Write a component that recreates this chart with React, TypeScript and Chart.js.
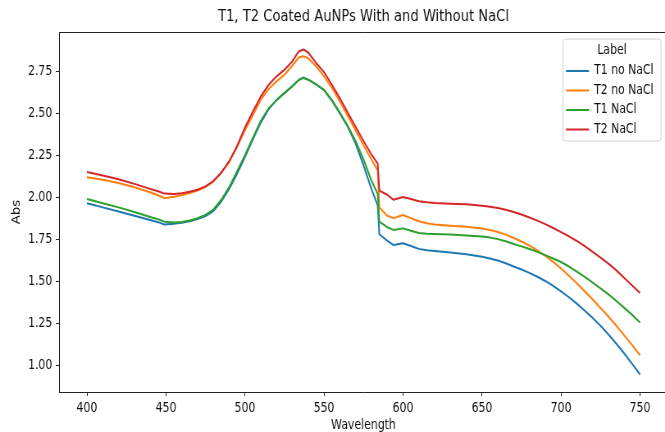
import React, { useEffect, useRef } from 'react';
import { Chart, registerables } from 'chart.js';

Chart.register(...registerables);

// ---- data ----
const wavelengths = [
  400, 410, 420, 430, 440, 445, 449,
  455, 460, 465, 470, 475, 480, 485, 490, 495, 500,
  505, 510, 515, 520, 525, 530, 534, 537, 540, 545,
  550, 555, 560, 565, 570, 575, 580,
  584, 585,
  590, 594, 600, 605, 610, 615, 620, 630, 640, 650,
  655, 660, 665, 670, 675, 680, 685, 690, 695, 700,
  705, 710, 715, 720, 725, 730, 735, 740, 745, 750,
];

const t1NoNaCl = [
  1.965, 1.94, 1.915, 1.89, 1.865, 1.852, 1.838,
  1.843, 1.848, 1.857, 1.87, 1.888, 1.918, 1.975, 2.05, 2.14, 2.24,
  2.345, 2.445, 2.525, 2.58, 2.622, 2.662, 2.698, 2.712, 2.7, 2.672,
  2.638, 2.575, 2.5, 2.42, 2.32, 2.19, 2.05,
  1.95, 1.78,
  1.742, 1.716, 1.726, 1.71, 1.693, 1.685, 1.68, 1.671, 1.661, 1.646,
  1.636, 1.624, 1.607, 1.588, 1.57, 1.55, 1.527, 1.502, 1.473, 1.44,
  1.405, 1.367, 1.325, 1.282, 1.235, 1.183, 1.128, 1.07, 1.008, 0.945,
];

const t2NoNaCl = [
  2.12, 2.105, 2.085, 2.06, 2.03, 2.012, 1.995,
  2.003, 2.012, 2.025, 2.04, 2.062, 2.095, 2.145, 2.21, 2.3, 2.4,
  2.49, 2.58, 2.645, 2.69, 2.73, 2.785, 2.832, 2.84, 2.827, 2.78,
  2.72, 2.652, 2.57, 2.485, 2.4, 2.31, 2.225,
  2.16, 1.94,
  1.89, 1.876, 1.895, 1.876, 1.857, 1.846, 1.838, 1.831, 1.825, 1.814,
  1.805, 1.793, 1.778, 1.758, 1.737, 1.712, 1.684, 1.652, 1.616, 1.576,
  1.533, 1.488, 1.44, 1.391, 1.341, 1.29, 1.235, 1.178, 1.12, 1.06,
];

const t1NaCl = [
  1.99, 1.965, 1.94, 1.912, 1.883, 1.869, 1.855,
  1.85, 1.853, 1.862, 1.875, 1.895, 1.927, 1.985, 2.06, 2.155, 2.25,
  2.355, 2.455, 2.53, 2.578, 2.62, 2.662, 2.698, 2.712, 2.7, 2.673,
  2.64, 2.578, 2.505, 2.425, 2.335, 2.225, 2.1,
  2.02, 1.855,
  1.822, 1.806, 1.815, 1.801, 1.787, 1.783, 1.781, 1.778, 1.773, 1.766,
  1.76, 1.751, 1.738, 1.722, 1.708, 1.692, 1.675, 1.656, 1.636, 1.615,
  1.588, 1.558, 1.526, 1.492, 1.458, 1.422, 1.383, 1.342, 1.3, 1.255,
];

const t2NaCl = [
  2.15, 2.13, 2.108, 2.08, 2.05, 2.036, 2.022,
  2.02, 2.024, 2.033, 2.045, 2.065, 2.097, 2.147, 2.215, 2.305, 2.415,
  2.51, 2.6, 2.67, 2.72, 2.76, 2.81, 2.868, 2.88, 2.862, 2.8,
  2.745, 2.67, 2.59, 2.505, 2.42, 2.335, 2.255,
  2.2, 2.04,
  2.015, 1.985, 2.002, 1.99, 1.976, 1.97, 1.966, 1.962, 1.958, 1.95,
  1.944, 1.936, 1.926, 1.913, 1.898, 1.88, 1.861, 1.84, 1.817, 1.793,
  1.768, 1.74, 1.709, 1.675, 1.641, 1.605, 1.565, 1.52, 1.475, 1.43,
];

const seriesLabels = ['T1 no NaCl', 'T2 no NaCl', 'T1 NaCl', 'T2 NaCl'];
const seriesColors = ['#1f77b4', '#ff7f0e', '#2ca02c', '#d62728'];
const seriesValues = [t1NoNaCl, t2NoNaCl, t1NaCl, t2NaCl];

const xTicks = [400, 450, 500, 550, 600, 650, 700, 750];
const yTicks = [1.0, 1.25, 1.5, 1.75, 2.0, 2.25, 2.5, 2.75];

const chartTitle = 'T1, T2 Coated AuNPs With and Without NaCl';
const xTitle = 'Wavelength';
const yTitle = 'Abs';
const legendTitle = 'Label';

// ---- layout ----
const SX = 0.82; // horizontal squash of the reference picture
const W = 830;
const H = 432;
const FAMILY = 'DejaVu Sans';
const TICK_SIZE = 13.3;
const TITLE_SIZE = 16;
const TEXT = '#111111';
const SPINE = '#222222';
const ix = (v: number) => v / SX;

const framePlugin = {
  id: 'mplFrame',
  afterDraw(chart: any) {
    const { ctx, chartArea } = chart;
    ctx.save();
    ctx.strokeStyle = SPINE;
    ctx.lineWidth = 1;
    ctx.beginPath();
    const top = Math.round(chartArea.top) + 0.5;
    ctx.moveTo(chartArea.left, top);
    ctx.lineTo(chartArea.right, top);
    ctx.moveTo(Math.round(chartArea.right) + 0.5, chartArea.top);
    ctx.lineTo(Math.round(chartArea.right) + 0.5, chartArea.bottom);
    ctx.stroke();

    // legend box
    const x0 = ix(563);
    const x1 = ix(661);
    const y0 = 39;
    const y1 = 141;
    const r = 3;
    ctx.beginPath();
    ctx.moveTo(x0 + r, y0);
    ctx.lineTo(x1 - r, y0);
    ctx.arcTo(x1, y0, x1, y0 + r, r);
    ctx.lineTo(x1, y1 - r);
    ctx.arcTo(x1, y1, x1 - r, y1, r);
    ctx.lineTo(x0 + r, y1);
    ctx.arcTo(x0, y1, x0, y1 - r, r);
    ctx.lineTo(x0, y0 + r);
    ctx.arcTo(x0, y0, x0 + r, y0, r);
    ctx.closePath();
    ctx.fillStyle = 'rgba(255,255,255,0.8)';
    ctx.fill();
    ctx.strokeStyle = '#d0d0d0';
    ctx.lineWidth = 1;
    ctx.stroke();

    ctx.font = `${TICK_SIZE}px "${FAMILY}"`;
    ctx.fillStyle = TEXT;
    ctx.textBaseline = 'middle';
    ctx.textAlign = 'center';
    ctx.fillText(legendTitle, (x0 + x1) / 2, 51);
    ctx.textAlign = 'left';
    chart.data.datasets.forEach((ds: any, i: number) => {
      const y = 71 + i * 19.5;
      ctx.strokeStyle = ds.borderColor;
      ctx.lineWidth = 2;
      ctx.beginPath();
      ctx.moveTo(ix(566), y);
      ctx.lineTo(ix(589), y);
      ctx.stroke();
      ctx.fillStyle = TEXT;
      ctx.fillText(ds.label, ix(594), y);
    });
    ctx.restore();
  },
};

export default function App() {
  const ref = useRef<HTMLCanvasElement | null>(null);

  useEffect(() => {
    if (!ref.current) return;
    const datasets = seriesValues.map((vals, i) => ({
      label: seriesLabels[i],
      data: wavelengths.map((x, j) => ({ x, y: vals[j] })),
      borderColor: seriesColors[i],
      backgroundColor: seriesColors[i],
      borderWidth: 2,
      pointRadius: 0,
      tension: 0,
      borderJoinStyle: 'round',
      fill: false,
      order: 4 - i,
    }));

    const chart = new Chart(ref.current, {
      type: 'line',
      data: { datasets },
      plugins: [framePlugin],
      options: {
        animation: false,
        responsive: false,
        devicePixelRatio: 1,
        events: [],
        layout: { padding: { left: 0, right: W - ix(667.7), top: 0, bottom: 0 } },
        plugins: {
          legend: { display: false },
          tooltip: { enabled: false },
          title: {
            display: true,
            text: chartTitle,
            fullSize: false,
            color: TEXT,
            font: { family: FAMILY, size: TITLE_SIZE, weight: 'normal', lineHeight: 1.2 },
            padding: { top: 7, bottom: 32 - 7 - TITLE_SIZE * 1.2 },
          },
        },
        scales: {
          x: {
            type: 'linear',
            min: 382.5,
            max: 767.5,
            afterBuildTicks: (scale: any) => {
              scale.ticks = xTicks.map((v) => ({ value: v }));
            },
            afterFit: (scale: any) => {
              scale.height = H - 392;
            },
            ticks: {
              autoSkip: false,
              maxRotation: 0,
              padding: 5,
              color: TEXT,
              font: { family: FAMILY, size: TICK_SIZE },
              callback: (v: any) => String(v),
            },
            grid: {
              display: true,
              drawOnChartArea: false,
              drawTicks: true,
              tickLength: 4,
              color: SPINE,
              lineWidth: 1,
            },
            border: { display: true, color: SPINE, width: 1 },
            title: {
              display: true,
              text: xTitle,
              color: TEXT,
              font: { family: FAMILY, size: TICK_SIZE, lineHeight: 1 },
              padding: { top: 0, bottom: 0 },
            },
          },
          y: {
            type: 'linear',
            min: 0.841,
            max: 2.984,
            afterBuildTicks: (scale: any) => {
              scale.ticks = yTicks.map((v) => ({ value: v }));
            },
            afterFit: (scale: any) => {
              scale.width = ix(59.3);
            },
            ticks: {
              autoSkip: false,
              padding: ix(3.5),
              color: TEXT,
              font: { family: FAMILY, size: TICK_SIZE },
              callback: (v: any) => Number(v).toFixed(2),
            },
            grid: {
              display: true,
              drawOnChartArea: false,
              drawTicks: true,
              tickLength: ix(3.5),
              color: SPINE,
              lineWidth: 1,
            },
            border: { display: true, color: SPINE, width: 1 },
            title: {
              display: true,
              text: yTitle,
              color: TEXT,
              font: { family: FAMILY, size: TICK_SIZE, lineHeight: 1 },
              padding: { top: ix(16.7) - TICK_SIZE / 2, bottom: 0 },
            },
          },
        },
      } as any,
    });
    return () => chart.destroy();
  }, []);

  return (
    <div
      style={{
        position: 'fixed',
        left: 0,
        top: 0,
        width: 665,
        height: 432,
        overflow: 'hidden',
        background: '#ffffff',
      }}
    >
      <div style={{ width: W, height: H, transform: `scaleX(${SX})`, transformOrigin: '0 0' }}>
        <canvas ref={ref} width={W} height={H} style={{ display: 'block' }} />
      </div>
    </div>
  );
}
